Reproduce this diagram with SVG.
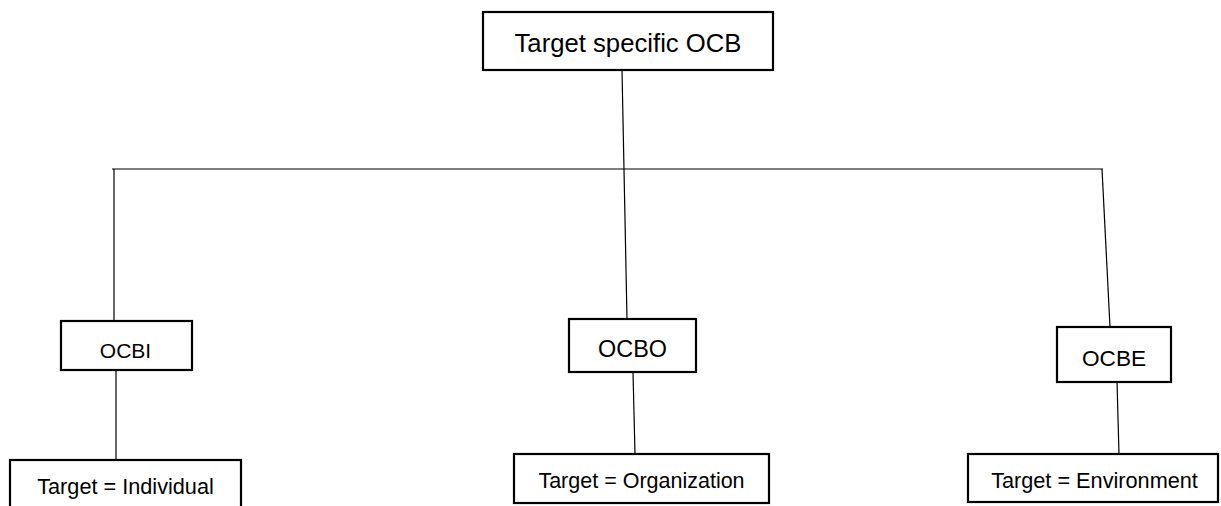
<svg xmlns="http://www.w3.org/2000/svg" width="1221" height="506" viewBox="0 0 1221 506">
  <style>
    .box { fill: #ffffff; stroke: #000000; stroke-width: 2.2; }
    .lbl { font-family: "Liberation Sans", Arial, sans-serif; fill: #000000; text-anchor: middle; }
    .conn line { stroke: #000000; stroke-width: 1.2; fill: none; }
  </style>
  <rect width="1221" height="506" fill="#ffffff"/>
  <g id="connectors" class="conn">
    <line x1="622" y1="70" x2="627" y2="319"/>
    <line x1="112" y1="169" x2="1103" y2="169"/>
    <line x1="114" y1="169" x2="114" y2="321"/>
    <line x1="1102" y1="169" x2="1110" y2="327"/>
    <line x1="116" y1="371" x2="116" y2="460"/>
    <line x1="633" y1="372" x2="635" y2="454"/>
    <line x1="1117" y1="382" x2="1119" y2="454"/>
  </g>
  <g id="node-root">
    <rect class="box" x="483" y="12" width="290" height="58"/>
    <text class="lbl" x="628" y="52" font-size="25.7">Target specific OCB</text>
  </g>
  <g id="node-ocbi">
    <rect class="box" x="61" y="321" width="131" height="49"/>
    <text class="lbl" x="125.5" y="358" font-size="21">OCBI</text>
  </g>
  <g id="node-ocbo">
    <rect class="box" x="569" y="319" width="127" height="53"/>
    <text class="lbl" x="632.5" y="357" font-size="23.4">OCBO</text>
  </g>
  <g id="node-ocbe">
    <rect class="box" x="1057" y="327" width="114" height="55"/>
    <text class="lbl" x="1114" y="366" font-size="22.6">OCBE</text>
  </g>
  <g id="node-individual">
    <rect class="box" x="10" y="460" width="231" height="60"/>
    <text class="lbl" x="125.5" y="494" font-size="21.7">Target = Individual</text>
  </g>
  <g id="node-organization">
    <rect class="box" x="514" y="454" width="255" height="49"/>
    <text class="lbl" x="641.5" y="488" font-size="21.5">Target = Organization</text>
  </g>
  <g id="node-environment">
    <rect class="box" x="968" y="454" width="250" height="48"/>
    <text class="lbl" x="1094.5" y="488" font-size="21.7">Target = Environment</text>
  </g>
</svg>
